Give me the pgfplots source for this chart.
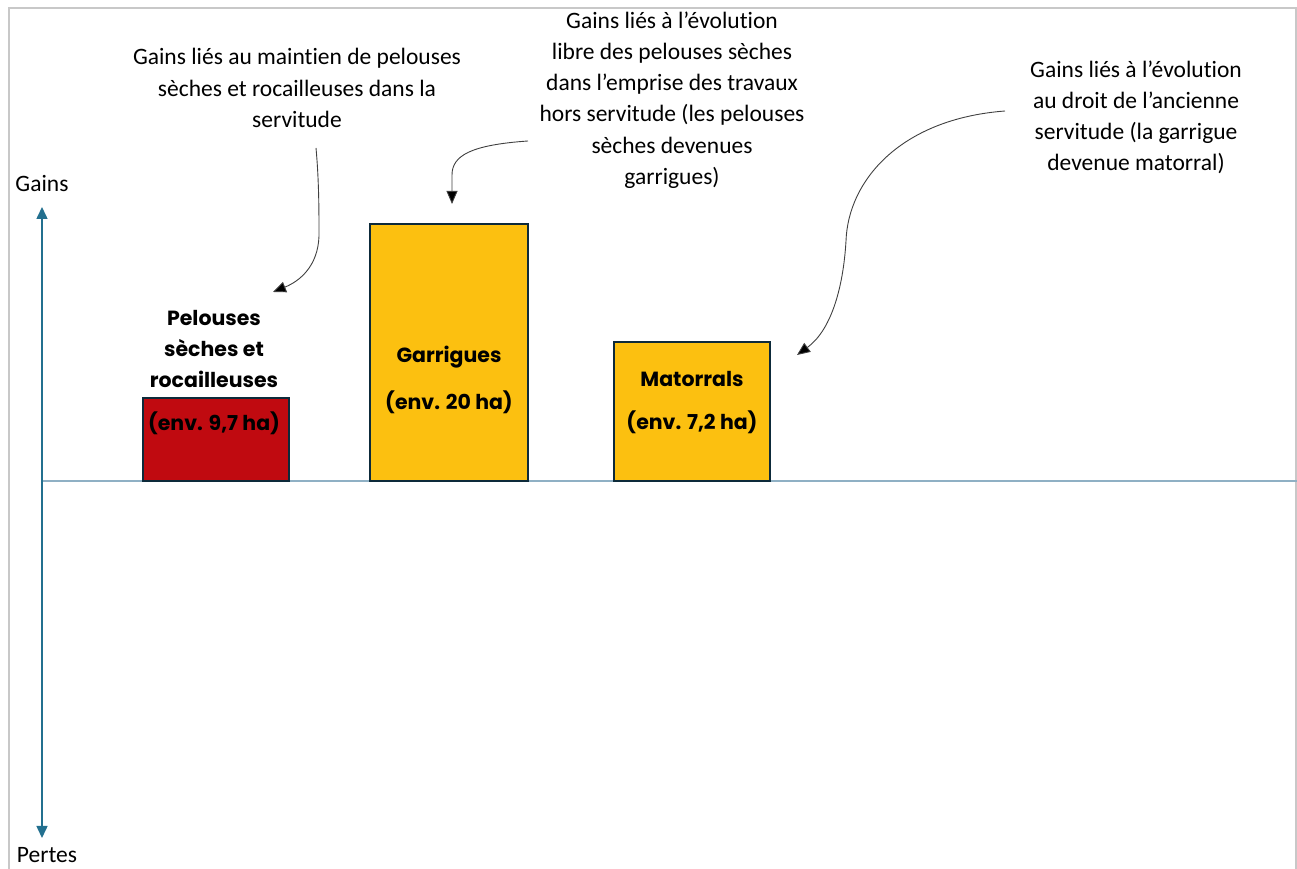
\documentclass[border=0pt]{standalone}
\usepackage{fontspec}
\setmainfont{Carlito}[Ligatures={NoCommon}]
\newfontfamily\barfont{Poppins}
\usepackage{pgfplots}
\pgfplotsset{compat=1.18}
\usetikzlibrary{arrows.meta}

\definecolor{barred}{HTML}{C00A10}
\definecolor{baryel}{HTML}{FCC010}
\definecolor{baredge}{HTML}{0D2A3A}
\definecolor{axteal}{HTML}{23708F}
\definecolor{baseblue}{HTML}{8FB0C4}
\definecolor{framegray}{HTML}{C8C8C8}

\newcommand{\hand}{\fontsize{23.5}{31.3}\selectfont}
\newcommand{\lab}{\barfont\bfseries\fontsize{20.5}{31}\selectfont}

\begin{document}
\begin{tikzpicture}
\begin{axis}[
    hide axis,
    scale only axis,
    width=1297pt, height=869pt,
    xmin=0, xmax=1297,
    ymin=-388, ymax=481,
    clip=false,
    ybar, bar shift=0pt,
]
\coordinate (bl) at (rel axis cs:0,0);
\coordinate (tr) at (rel axis cs:1,1);

% frame
\draw[framegray, line width=2pt] (axis cs:9,-400) -- (axis cs:9,473) -- (axis cs:1296,473) -- (axis cs:1296,-400);

% baseline and gains/pertes axis
\draw[baseblue, line width=1.5pt] (axis cs:42,0) -- (axis cs:1297,0);
\draw[axteal, line width=1.5pt, {Triangle[length=12pt,width=11pt]}-{Triangle[length=12pt,width=11pt]}]
    (axis cs:42,274) -- (axis cs:42,-357);

% bars
\addplot[fill=barred, draw=baredge, line width=2pt, bar width=146pt] coordinates {(216,83)};
\addplot[fill=baryel, draw=baredge, line width=2pt, bar width=158pt] coordinates {(449,257)};
\addplot[fill=baryel, draw=baredge, line width=2pt, bar width=156pt] coordinates {(692,139)};

% bar labels
\node[align=center, font=\lab] at (axis cs:214,132) {Pelouses\\sèches et\\rocailleuses};
\node[font=\lab] at (axis cs:214,58) {(env. 9,7 ha)};
\node[font=\lab] at (axis cs:449,124) {Garrigues};
\node[font=\lab] at (axis cs:449,79) {(env. 20 ha)};
\node[font=\lab] at (axis cs:692,102) {Matorrals};
\node[font=\lab] at (axis cs:692,59) {(env. 7,2 ha)};

% axis words
\node[font=\hand] at (axis cs:42,297) {Gains};
\node[font=\hand] at (axis cs:47,-374) {Pertes};

% annotations
\node[align=center, font=\hand, anchor=north] at (axis cs:297,436) {Gains liés au maintien de pelouses\\sèches et rocailleuses dans la\\servitude};
\node[align=center, font=\hand, anchor=north] at (axis cs:672,473) {Gains liés à l’évolution\\libre des pelouses sèches\\dans l’emprise des travaux\\hors servitude (les pelouses\\sèches devenues\\garrigues)};
\node[align=center, font=\hand, anchor=north] at (axis cs:1136,424) {Gains liés à l’évolution\\au droit de l’ancienne\\servitude (la garrigue\\devenue matorral)};

% pointer arrows
\draw[black!75, line width=0.9pt, -{Triangle[length=13pt,width=11pt,fill=black]}]
    (axis cs:316,333) .. controls (axis cs:319,300) and (axis cs:319,270) .. (axis cs:319,245)
    .. controls (axis cs:318,215) and (axis cs:300,200) .. (axis cs:273,189);
\draw[black!75, line width=0.9pt, -{Triangle[length=13pt,width=11pt,fill=black]}]
    (axis cs:528,340) .. controls (axis cs:470,336) and (axis cs:452,325) .. (axis cs:452,306) -- (axis cs:452,277);
\draw[black!75, line width=0.9pt, -{Triangle[length=13pt,width=11pt,fill=black]}]
    (axis cs:1005,370) .. controls (axis cs:900,362) and (axis cs:848,300) .. (axis cs:846,240)
    .. controls (axis cs:843,190) and (axis cs:830,150) .. (axis cs:797,126);
\end{axis}
\pgfresetboundingbox
\useasboundingbox (bl) rectangle (tr);
\end{tikzpicture}
\end{document}
